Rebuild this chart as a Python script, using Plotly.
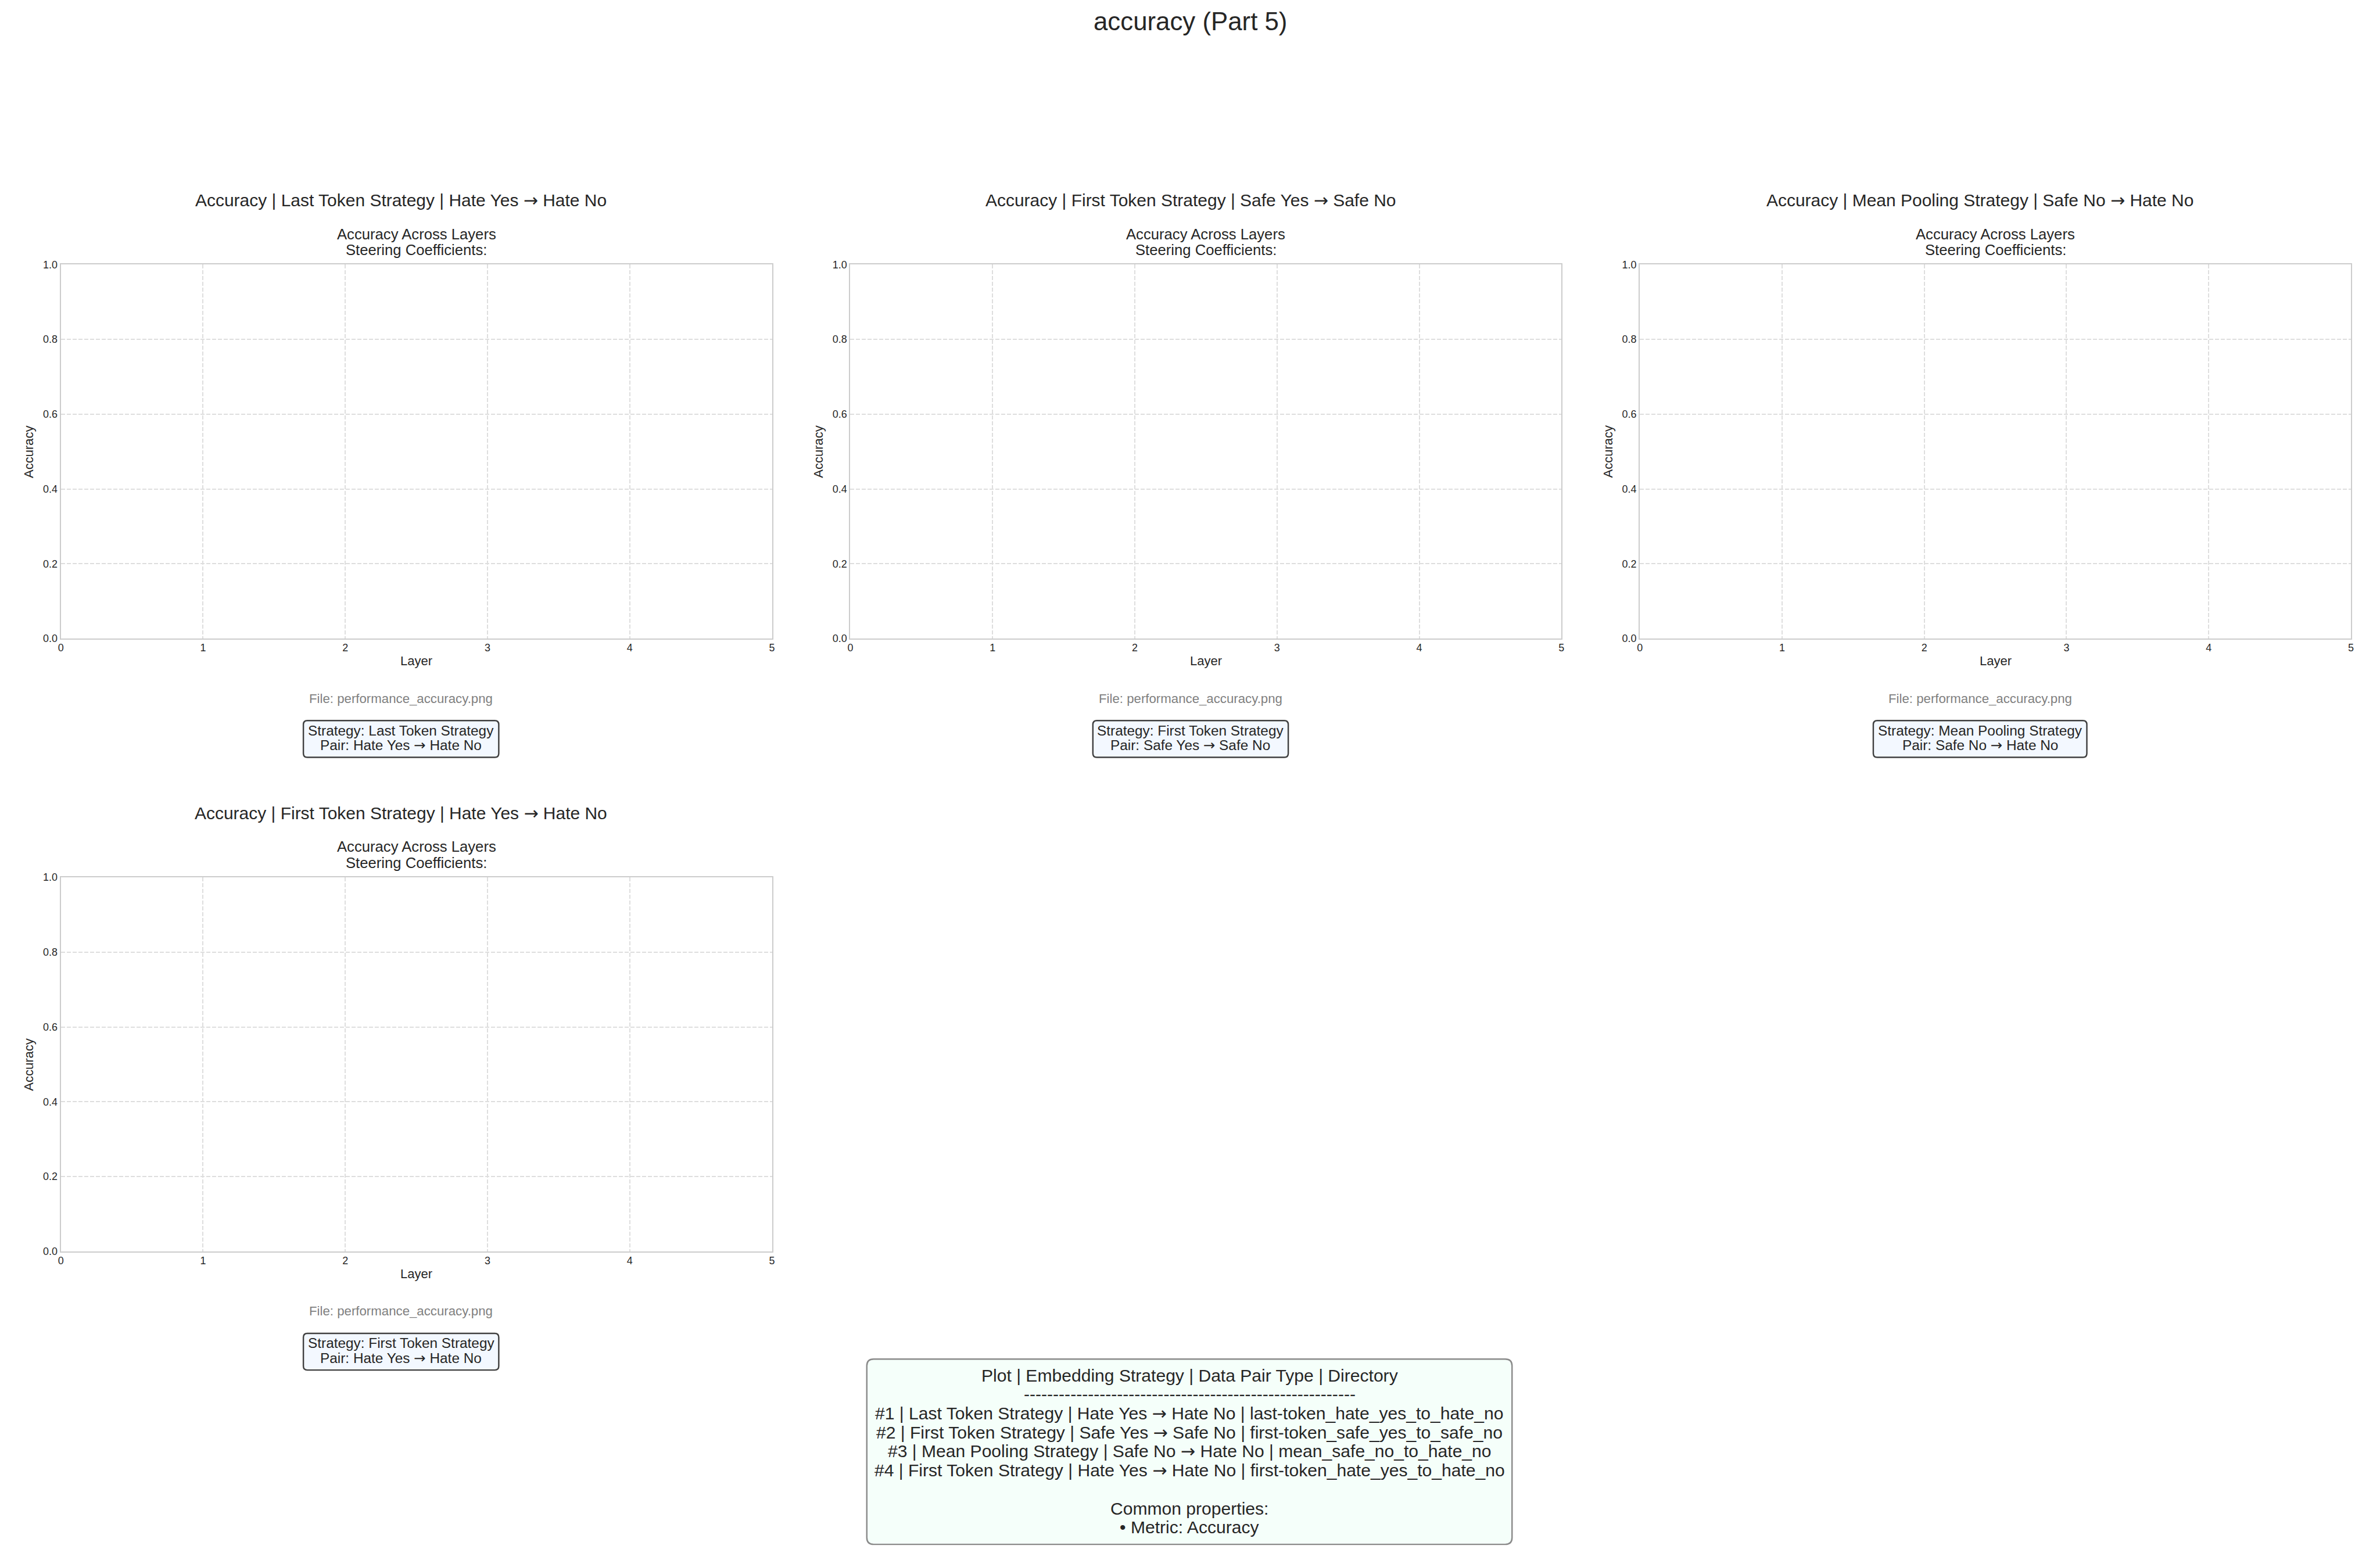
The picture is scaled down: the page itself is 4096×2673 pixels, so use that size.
import plotly.graph_objects as go

# ---------------- data ----------------
suptitle = "accuracy (Part 5)"
metric = "Accuracy"
strategies = ["Last Token Strategy", "First Token Strategy", "Mean Pooling Strategy", "First Token Strategy"]
pairs = ["Hate Yes → Hate No", "Safe Yes → Safe No", "Safe No → Hate No", "Hate Yes → Hate No"]
directories = ["last-token_hate_yes_to_hate_no", "first-token_safe_yes_to_safe_no",
               "mean_safe_no_to_hate_no", "first-token_hate_yes_to_hate_no"]
file_name = "performance_accuracy.png"
subtitle_lines = ["Accuracy Across Layers", "Steering Coefficients:"]
x_label = "Layer"
y_label = "Accuracy"
x_tick_vals = [0, 1, 2, 3, 4, 5]
x_tick_text = ["0", "1", "2", "3", "4", "5"]
y_tick_vals = [0.0, 0.2, 0.4, 0.6, 0.8, 1.0]
y_tick_text = ["0.0", "0.2", "0.4", "0.6", "0.8", "1.0"]
x_range = [0, 5]
y_range = [0, 1]
# no steering-coefficient curves were recorded for these panels
layer_values = [[], [], [], []]
accuracy_values = [[], [], [], []]

# ---------------- layout (reference pixel space 4180x2728) ----------------
WR, HR = 4180.0, 2728.0
W, H = 4096, 2673
S = W / WR
FONT = "Liberation Sans, Arial, sans-serif"
TXT = "#262626"
ARROW = '<span style="font-family:DejaVu Sans">→</span>'


def fmt(t):
    return t.replace("→", ARROW)


def px(x):
    return x / WR


def py(y):
    return 1 - y / HR


def ann(text, x, y, size, color=TXT, rotated=False, lift=0.2, **kw):
    # (x, y) = visual centre of the capital letters in reference pixels
    if rotated:
        x = x - lift * size
    else:
        y = y - lift * size
    d = dict(text=fmt(text), x=px(x), y=py(y), xref="paper", yref="paper", showarrow=False,
             font=dict(size=size * S, family=FONT, color=color),
             xanchor="center", yanchor="middle")
    if rotated:
        d["textangle"] = -90
    d.update(kw)
    return d


def rrect(x0, y0, x1, y1, r, fill, line, lw):
    rx, ry = r / WR, r / HR
    X0, X1 = px(x0), px(x1)
    Y0, Y1 = py(y0), py(y1)  # Y0 top, Y1 bottom
    path = (f"M {X0+rx},{Y0} L {X1-rx},{Y0} Q {X1},{Y0} {X1},{Y0-ry} "
            f"L {X1},{Y1+ry} Q {X1},{Y1} {X1-rx},{Y1} L {X0+rx},{Y1} "
            f"Q {X0},{Y1} {X0},{Y1+ry} L {X0},{Y0-ry} Q {X0},{Y0} {X0+rx},{Y0} Z")
    return dict(type="path", path=path, xref="paper", yref="paper",
                fillcolor=fill, line=dict(color=line, width=lw * S), layer="above")


panel_pos = [(0, 0), (0, 1), (0, 2), (1, 0)]  # (row, col)
AX_X0, AX_W, COL_STEP = 102.0, 1252.0, 1390.0
AX_Y0, AX_Y1, ROW_STEP = 458.0, 1120.0, 1084.5
box_half_w = [172, 172, 188, 172]

fig = go.Figure()
annotations = [ann(suptitle, WR / 2, 36.7, 44.7)]
shapes = []

for i, (r, c) in enumerate(panel_pos):
    n = "" if i == 0 else str(i + 1)
    x0 = AX_X0 + COL_STEP * c
    x1 = x0 + AX_W
    yt = AX_Y0 + ROW_STEP * r
    yb = AX_Y1 + ROW_STEP * r
    ac = (x0 + x1) / 2
    tc = ac - 27
    off = ROW_STEP * r

    fig.add_trace(go.Scatter(x=layer_values[i], y=accuracy_values[i], mode="lines+markers",
                             xaxis="x" + n, yaxis="y" + n, showlegend=False))

    common = dict(showline=True, mirror=True, linecolor="#cccccc", linewidth=2.5 * S,
                  showgrid=True, gridcolor="#dedede", gridwidth=1.6 * S, griddash="7px,3px",
                  zeroline=False, ticks="", fixedrange=True,
                  tickfont=dict(size=18.3 * S, family=FONT, color=TXT))
    fig.update_layout(**{
        "xaxis" + n: dict(domain=[px(x0), px(x1)], range=x_range, tickmode="array",
                          tickvals=x_tick_vals, ticktext=x_tick_text, anchor="y" + n,
                          ticklabelstandoff=-2, **common),
        "yaxis" + n: dict(domain=[py(yb), py(yt)], range=y_range, tickmode="array",
                          tickvals=y_tick_vals, ticktext=y_tick_text, anchor="x" + n, **common),
    })

    annotations.append(ann(f"{metric} | {strategies[i]} | {pairs[i]}", tc, 350 + off, 30.6))
    annotations.append(ann(subtitle_lines[0], ac, 409 + off, 26.2))
    annotations.append(ann(subtitle_lines[1], ac, 437.5 + off, 26.2))
    annotations.append(ann(x_label, ac, 1161.5 + off, 22.5, lift=0.1))
    annotations.append(ann(y_label, x0 - 54, (yt + yb) / 2, 22.5, rotated=True, lift=0.1))
    annotations.append(ann(f"File: {file_name}", tc, 1228 + off, 22.7, color="#808080", lift=0.1))
    shapes.append(rrect(tc - box_half_w[i], 1265 + off, tc + box_half_w[i], 1330 + off, 7,
                        "#f3f8ff", "#404040", 2.5))
    annotations.append(ann(f"Strategy: {strategies[i]}", tc, 1282.5 + off, 24.9, lift=0.0))
    annotations.append(ann(f"Pair: {pairs[i]}", tc, 1308.3 + off, 24.9, lift=0.0))

# summary box
summary_lines = ["Plot | Embedding Strategy | Data Pair Type | Directory", "-" * 57]
for i in range(len(strategies)):
    summary_lines.append(f"#{i+1} | {strategies[i]} | {pairs[i]} | {directories[i]}")
summary_lines += ["", "Common properties:", f"• Metric: {metric}"]
shapes.append(rrect(1521, 2395, 2657, 2723, 12, "#f5fffa", "#8a8a8a", 2.5))
for k, line in enumerate(summary_lines):
    if line:
        annotations.append(ann(line, 2089, 2423 + 33.6 * k, 30.7, lift=-0.03))

fig.update_layout(width=W, height=H, margin=dict(l=0, r=0, t=0, b=0),
                  paper_bgcolor="white", plot_bgcolor="white",
                  annotations=annotations, shapes=shapes, showlegend=False,
                  font=dict(family=FONT, color=TXT))
fig.write_html("out.html")
